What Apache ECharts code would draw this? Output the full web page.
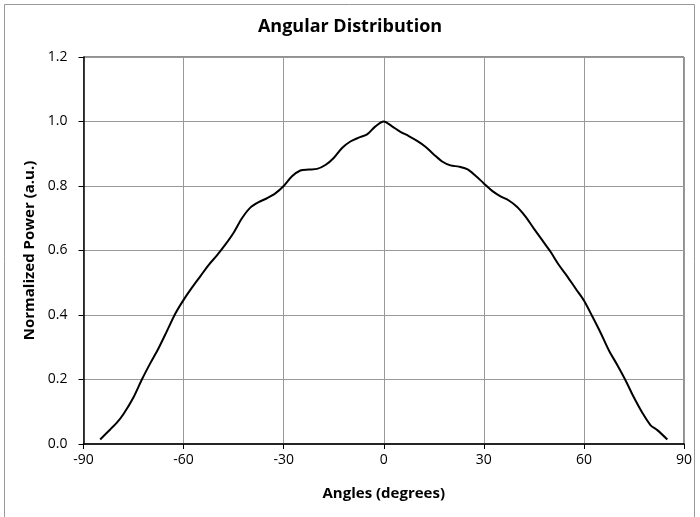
<!DOCTYPE html>
<html>
<head>
<meta charset="utf-8">
<script src="https://cdn.jsdelivr.net/npm/echarts@6/dist/echarts.min.js"></script>
<style>
html,body{margin:0;padding:0;background:#fff;}
#chart{width:700px;height:517px;}
</style>
</head>
<body>
<div id="chart"></div>
<script>
const angles = [-85, -82, -80, -78, -75, -72.5, -70, -67.5, -65, -62.5, -60, -57.5, -55, -52.5, -50, -47.5, -45, -42.5, -40, -37.5, -35, -32.5, -30, -27.5, -25, -22.5, -20, -17.5, -15, -12.5, -10, -7.5, -5, -2.5, 0, 2.5, 5, 7.5, 10, 12.5, 15, 17.5, 20, 22.5, 25, 27.5, 30, 32.5, 35, 37.5, 40, 42.5, 45, 47.5, 50, 52.5, 55, 57.5, 60, 62.5, 65, 67.5, 70, 72.5, 75, 77.5, 80, 82, 85];
const power = [0.014, 0.045, 0.066, 0.093, 0.145, 0.200, 0.250, 0.297, 0.350, 0.404, 0.447, 0.485, 0.520, 0.555, 0.585, 0.618, 0.655, 0.700, 0.733, 0.750, 0.762, 0.777, 0.800, 0.830, 0.848, 0.851, 0.853, 0.865, 0.887, 0.918, 0.938, 0.950, 0.960, 0.985, 1.000, 0.985, 0.968, 0.955, 0.940, 0.922, 0.898, 0.876, 0.864, 0.860, 0.852, 0.832, 0.808, 0.785, 0.768, 0.755, 0.735, 0.705, 0.668, 0.632, 0.596, 0.555, 0.520, 0.482, 0.445, 0.396, 0.345, 0.290, 0.245, 0.197, 0.144, 0.097, 0.058, 0.043, 0.014];
const xTicks = [-90, -60, -30, 0, 30, 60, 90];
const yTicks = [0.0, 0.2, 0.4, 0.6, 0.8, 1.0, 1.2];

const chart = echarts.init(document.getElementById('chart'));
const font = '"Open Sans", "DejaVu Sans", sans-serif';
chart.setOption({
  animation: false,
  backgroundColor: '#fff',
  graphic: [{
    type: 'rect', shape: {x: 4.5, y: 4.5, width: 690, height: 520},
    style: {fill: 'none', stroke: '#999', lineWidth: 1}, silent: true
  }],
  title: {
    text: 'Angular Distribution', left: 'center', top: 13,
    textStyle: {fontFamily: font, fontSize: 18, fontWeight: 'bold', color: '#000'}
  },
  grid: {left: 83.5, right: 16, top: 57, bottom: 73, show: true, borderColor: '#222', borderWidth: 1, backgroundColor: 'transparent'},
  xAxis: {
    type: 'value', min: xTicks[0], max: xTicks[xTicks.length - 1], interval: 30,
    name: 'Angles (degrees)', nameLocation: 'middle', nameGap: 42,
    nameTextStyle: {fontFamily: font, fontSize: 15, fontWeight: 'bold', color: '#000'},
    axisLine: {show: true, onZero: false, lineStyle: {color: '#000', width: 1.5}},
    axisTick: {show: true, length: 5, lineStyle: {color: '#000'}},
    axisLabel: {fontFamily: font, fontSize: 14, color: '#000', margin: 9},
    splitLine: {show: true, lineStyle: {color: '#999', width: 1}}
  },
  yAxis: {
    type: 'value', min: yTicks[0], max: yTicks[yTicks.length - 1], interval: 0.2,
    name: 'Normalized Power (a.u.)', nameLocation: 'middle', nameGap: 45, nameRotate: 90,
    nameTextStyle: {fontFamily: font, fontSize: 15, fontWeight: 'bold', color: '#000'},
    axisLine: {show: true, onZero: false, lineStyle: {color: '#000', width: 1.5}},
    axisTick: {show: true, length: 5, lineStyle: {color: '#000'}},
    axisLabel: {fontFamily: font, fontSize: 14, color: '#000', margin: 16, formatter: v => v.toFixed(1)},
    splitLine: {show: true, lineStyle: {color: '#999', width: 1}}
  },
  series: [{
    type: 'line', data: angles.map((a, i) => [a, power[i]]),
    showSymbol: false, smooth: 0.3,
    lineStyle: {color: '#000', width: 2}
  }]
});
</script>
</body>
</html>
